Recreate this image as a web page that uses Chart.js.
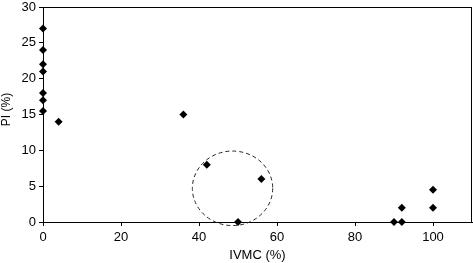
<!DOCTYPE html>
<html>
<head>
<meta charset="utf-8">
<script src="https://cdn.jsdelivr.net/npm/chart.js@4/dist/chart.umd.min.js"></script>
<style>
  html, body { margin: 0; padding: 0; background: #fff; }
  #wrap { width: 473px; height: 263px; }
</style>
</head>
<body>
<div id="wrap"><canvas id="chartPI"></canvas></div>
<script>
// data
const ivmc = [0, 0, 0, 0, 0, 0, 0, 4, 36, 42, 56, 50, 90, 92, 92, 100, 100];
const pi   = [27, 24, 22, 21, 18, 17, 15.5, 14, 15, 8, 6, 0, 0, 0, 2, 2, 4.5];
const xTicks = [0, 20, 40, 60, 80, 100];
const yTicks = [0, 5, 10, 15, 20, 25, 30];
const yTitle = 'PI (%)';
// dashed circle round the middle group (centre and radii in data units)
const ring = { x: 48.6, y: 4.7, rx: 10.3, ry: 5.2 };

const points = ivmc.map((v, i) => ({ x: v, y: pi[i] }));
const font = { family: 'Liberation Sans, Arial, sans-serif', size: 13 };

// box round the plot area, dashed ring, y title (sits a bit above centre in the original)
const extras = {
  id: 'extras',
  afterDatasetsDraw(chart) {
    const { ctx, chartArea: a, scales: { x, y } } = chart;
    ctx.save();
    ctx.strokeStyle = '#000';
    ctx.lineWidth = 1;
    ctx.strokeRect(a.left + 0.5, a.top + 0.5, a.right - a.left - 1, a.bottom - a.top);
    const cx = x.getPixelForValue(ring.x), cy = y.getPixelForValue(ring.y);
    const rx = x.getPixelForValue(ring.x + ring.rx) - cx;
    const ry = cy - y.getPixelForValue(ring.y + ring.ry);
    ctx.setLineDash([4, 3]);
    ctx.strokeStyle = '#222';
    ctx.beginPath();
    ctx.ellipse(cx, cy, rx, ry, 0, 0, Math.PI * 2);
    ctx.stroke();
    ctx.restore();

    ctx.save();
    ctx.translate(7, y.getPixelForValue(15.7));
    ctx.rotate(-Math.PI / 2);
    ctx.fillStyle = '#000';
    ctx.font = '12px "Liberation Sans", Arial, sans-serif';
    ctx.textAlign = 'center';
    ctx.textBaseline = 'middle';
    ctx.fillText(yTitle, 0, 0);
    ctx.restore();
  }
};

new Chart(document.getElementById('chartPI'), {
  type: 'scatter',
  data: {
    datasets: [{
      data: points,
      pointStyle: 'rectRot',
      pointRadius: 4,
      pointBackgroundColor: '#000',
      pointBorderColor: '#000',
      pointBorderWidth: 0,
      clip: false
    }]
  },
  options: {
    responsive: true,
    maintainAspectRatio: false,
    animation: false,
    layout: { autoPadding: false, padding: { top: 7, right: 1, left: 0, bottom: 0 } },
    plugins: { legend: { display: false }, tooltip: { enabled: false } },
    scales: {
      x: {
        type: 'linear',
        min: 0, max: 110,
        afterBuildTicks: s => { s.ticks = xTicks.map(v => ({ value: v })); },
        afterFit: s => { s.height = 41; s.paddingRight = 0; },
        ticks: { color: '#000', font, padding: 4, maxRotation: 0 },
        grid: { drawOnChartArea: false, drawTicks: true, tickLength: 4, color: '#000' },
        border: { color: '#000' },
        title: { display: true, text: 'IVMC (%)', color: '#000', font, padding: { top: 2, bottom: 0 } }
      },
      y: {
        type: 'linear',
        min: 0, max: 30,
        afterBuildTicks: s => { s.ticks = yTicks.map(v => ({ value: v })); },
        afterFit: s => { s.width = 43; s.paddingTop = 0; s.paddingBottom = 0; },
        ticks: { color: '#000', font, padding: 3 },
        grid: { drawOnChartArea: false, drawTicks: true, tickLength: 4, color: '#000' },
        border: { color: '#000' },
        title: { display: false }
      }
    }
  },
  plugins: [extras]
});
</script>
</body>
</html>
